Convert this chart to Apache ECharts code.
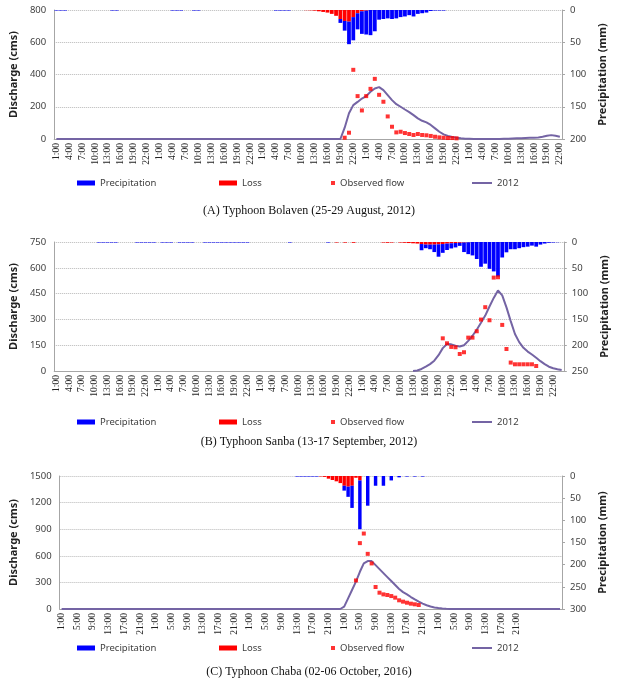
<!DOCTYPE html>
<html><head><meta charset="utf-8">
<script src="https://cdn.jsdelivr.net/npm/echarts@6/dist/echarts.min.js"></script>
<style>html,body{margin:0;padding:0;background:#fff}#c{width:618px;height:680px}</style>
</head><body><div id="c"></div>
<script>
// ---------- tick labels / categories ----------
const HOURS = ['1:00','2:00','3:00','4:00','5:00','6:00','7:00','8:00','9:00','10:00','11:00','12:00',
  '13:00','14:00','15:00','16:00','17:00','18:00','19:00','20:00','21:00','22:00','23:00','0:00'];
const N_A = 118, N_B = 120, N_C = 128;
const LEFT_A = [0, 800, 200], RIGHT_A = [0, 200, 50];
const LEFT_B = [0, 750, 150], RIGHT_B = [0, 250, 50];
const LEFT_C = [0, 1500, 300], RIGHT_C = [0, 300, 50];
const CAPTIONS = ['(A) Typhoon Bolaven (25-29 August, 2012)',
                  '(B) Typhoon Sanba (13-17 September, 2012)',
                  '(C) Typhoon Chaba (02-06 October, 2016)'];

// ---------- Panel A (Bolaven) ----------
const A_loss_from = 58;
const A_loss = [0.3,0.5,1,2,3,4,6,9,14,17,18,11,5,2,1];
const A_prec_from = 66;
const A_prec = [6,15,35,36,25,35,37,39,33,15,14,13,14,13,11,10,8,10,6,5,4,1.5,0.8,0.8];
const A_prec_trace_idx = [0,1,2,13,14,27,28,29,32,33,51,52,53,54,90];
const A_trace = 0.8;
const A_obs_from = 67;
const A_obs = [8,39,429,266,177,266,311,373,274,231,140,76,41,45,37,31,25,31,25,23,19,14,10,8,6,6,4];
const A_sim_peak_from = 66;
const A_sim_peak = [0,70,160,210,230,251,266,293,313,322,303,272,241,216,200,183,167,148,128,113,103,87,66,45,29,19,12,8,4,2,1];
const A_sim_tail_from = 104;
const A_sim_tail = [1,2,3,4,5,6,7,8,10,14,20,24,20,14];

// ---------- Panel B (Sanba) ----------
const B_loss_from = 66;
const B_loss = [1,0,1.2,0,1.5,0,0,0,0,0,0,1,1.5,1,0,1,1.5,2,2.5,3,4,5,5,5,4.5,4,3,2.5,2,1.5,1,0.5];
const B_prec_from = 86;
const B_prec = [12,7,9,14.5,24,17,12.5,10,8.5,6,18.5,23,26,33,48,42,52,57,67,30,20,14,14,12,10,9,7,9,5,3,1.5,1,0.5];
const B_prec_trace_idx = [10,11,12,13,14,19,20,21,22,23,25,26,27,29,30,31,32,35,36,37,38,39,40,41,42,43,44,45,55,64];
const B_trace = 1.0;
const B_obs_from = 91;
const B_obs = [190,161,140,138,99,109,194,194,231,299,371,295,543,545,268,128,49,39,39,39,39,39,29];
const B_sim_from = 84;
const B_sim = [0,3,12,25,40,60,92,133,157,155,147,142,150,175,205,240,280,322,375,425,468,440,370,290,215,168,135,113,96,77,57,40,25,16,10,6];

// ---------- Panel C (Chaba) ----------
const C_loss_from = 66;
const C_loss = [1,2,6,9,12,16,22,24,22,4,10];
const C_prec_from = 72;
const C_prec = [11,23,50,0,110,0,67,0,22,0,22,0,10,0,3,0,1.2,0,1.2,0,1.2];
const C_prec_trace_idx = [60,61,62,63,64,65];
const C_trace = 1.2;
const C_obs_from = 75;
const C_obs = [322,743,851,622,514,248,184,165,158,146,128,98,83,71,60,53,45];
const C_sim_from = 71;
const C_sim = [0,26,120,214,308,420,514,540,540,495,450,405,360,315,270,225,190,165,135,108,82,60,42,28,18,11,6,3,1];

// ---------- helpers (placement of read values into full-length series) ----------
function place(n, fill, blocks) {
  const a = new Array(n).fill(fill);
  blocks.forEach(([from, vals]) => vals.forEach((v, k) => { a[from + k] = v; }));
  return a;
}
function traces(arr, idx, v) { idx.forEach(i => { if (!arr[i]) arr[i] = v; }); return arr; }
function cats(n) {
  const out = [];
  for (let d = 0; d < 5; d++) HOURS.forEach(h => out.push(h));
  while (out.length < n) out.push('');
  return out.slice(0, n);
}

const panels = [
  { n: N_A, left: LEFT_A, right: RIGHT_A, interval: 2,
    grid: { left: 47, top: 10, width: 515, height: 129 },
    loss: place(N_A, 0, [[A_loss_from, A_loss]]),
    prec: traces(place(N_A, 0, [[A_prec_from, A_prec]]), A_prec_trace_idx, A_trace),
    obs: place(N_A, '-', [[A_obs_from, A_obs]]),
    sim: place(N_A, 0, [[A_sim_peak_from, A_sim_peak], [A_sim_tail_from, A_sim_tail]]),
    legendTop: 178, capTop: 205 },
  { n: N_B, left: LEFT_B, right: RIGHT_B, interval: 2,
    grid: { left: 47, top: 242, width: 518, height: 129 },
    loss: place(N_B, 0, [[B_loss_from, B_loss]]),
    prec: traces(place(N_B, 0, [[B_prec_from, B_prec]]), B_prec_trace_idx, B_trace),
    obs: place(N_B, '-', [[B_obs_from, B_obs]]),
    sim: place(N_B, '-', [[B_sim_from, B_sim]]),
    legendTop: 417, capTop: 436 },
  { n: N_C, left: LEFT_C, right: RIGHT_C, interval: 3,
    grid: { left: 50, top: 476, width: 512, height: 133 },
    loss: place(N_C, 0, [[C_loss_from, C_loss]]),
    prec: traces(place(N_C, 0, [[C_prec_from, C_prec]]), C_prec_trace_idx, C_trace),
    obs: place(N_C, '-', [[C_obs_from, C_obs]]),
    sim: place(N_C, 0, [[C_sim_from, C_sim]]),
    legendTop: 643, capTop: 666 }
];

const BLUE = '#0000FF', RED = '#FF0000', PURPLE = '#7464A4';
const AX = '#a6a6a6', TXT = '#404040';
const SANS = 'Noto Sans', SERIF = 'Liberation Serif';

const option = { animation: false, grid: [], xAxis: [], yAxis: [], series: [], legend: [], title: [] };

panels.forEach((p, k) => {
  option.grid.push(p.grid);
  option.xAxis.push({
    type: 'category', gridIndex: k, data: cats(p.n), boundaryGap: true,
    axisLine: { lineStyle: { color: AX } },
    axisTick: { interval: 0, length: 3, lineStyle: { color: AX } },
    axisLabel: { interval: p.interval, rotate: 90, margin: 4, fontSize: 9.5, fontFamily: SERIF, color: '#222' }
  });
  option.yAxis.push({
    type: 'value', gridIndex: k, position: 'left', min: p.left[0], max: p.left[1], interval: p.left[2],
    name: 'Discharge (cms)', nameLocation: 'middle', nameGap: 33,
    nameTextStyle: { fontFamily: SANS, fontSize: 11, fontWeight: 'bold', color: '#222' },
    axisLine: { show: true, lineStyle: { color: AX } }, axisTick: { show: false },
    axisLabel: { margin: 8, fontSize: 9.5, fontFamily: SANS, color: TXT, formatter: v => String(v) },
    splitLine: { lineStyle: { color: '#b8b8b8', type: 'dotted' } }
  });
  option.yAxis.push({
    type: 'value', gridIndex: k, position: 'right', inverse: true,
    min: p.right[0], max: p.right[1], interval: p.right[2],
    name: 'Precipitation (mm)', nameLocation: 'middle', nameGap: 35,
    nameTextStyle: { fontFamily: SANS, fontSize: 11, fontWeight: 'bold', color: '#222' },
    axisLine: { show: true, lineStyle: { color: AX } },
    axisTick: { show: true, length: 3, lineStyle: { color: AX } },
    axisLabel: { margin: 8, fontSize: 9.5, fontFamily: SANS, color: TXT, formatter: v => String(v) },
    splitLine: { show: false }
  });
  option.series.push(
    { name: 'Loss', type: 'bar', xAxisIndex: k, yAxisIndex: 2 * k + 1, stack: 'rain' + k,
      data: p.loss, itemStyle: { color: RED }, barCategoryGap: '12%', z: 2 },
    { name: 'Precipitation', type: 'bar', xAxisIndex: k, yAxisIndex: 2 * k + 1, stack: 'rain' + k,
      data: p.prec, itemStyle: { color: BLUE }, barCategoryGap: '12%', z: 2 },
    { name: '2012', type: 'line', xAxisIndex: k, yAxisIndex: 2 * k, data: p.sim,
      symbol: 'none', showSymbol: false, lineStyle: { color: PURPLE, width: 2 }, itemStyle: { color: PURPLE }, z: 3 },
    { name: 'Observed flow', type: 'scatter', xAxisIndex: k, yAxisIndex: 2 * k, data: p.obs,
      symbol: 'rect', symbolSize: 4, itemStyle: { color: RED }, z: 4 }
  );
  const lt = { fontFamily: SANS, fontSize: 9.5, color: TXT };
  const base = { top: p.legendTop, padding: 0, icon: 'rect', textStyle: lt, selectedMode: false };
  option.legend.push(
    Object.assign({}, base, { data: ['Precipitation'], left: 77, itemWidth: 18, itemHeight: 5 }),
    Object.assign({}, base, { data: ['Loss'], left: 219, itemWidth: 18, itemHeight: 5 }),
    Object.assign({}, base, { data: ['Observed flow'], left: 331, itemWidth: 4, itemHeight: 4 }),
    Object.assign({}, base, { data: ['2012'], left: 472, itemWidth: 20, itemHeight: 2 })
  );
  option.title.push({ text: CAPTIONS[k], left: 'center', top: p.capTop, padding: 0,
    textStyle: { fontFamily: SERIF, fontSize: 12, fontWeight: 'normal', color: '#111' } });
});

const chart = echarts.init(document.getElementById('c'), null, { renderer: 'canvas' });
chart.setOption(option);
</script>
</body></html>
